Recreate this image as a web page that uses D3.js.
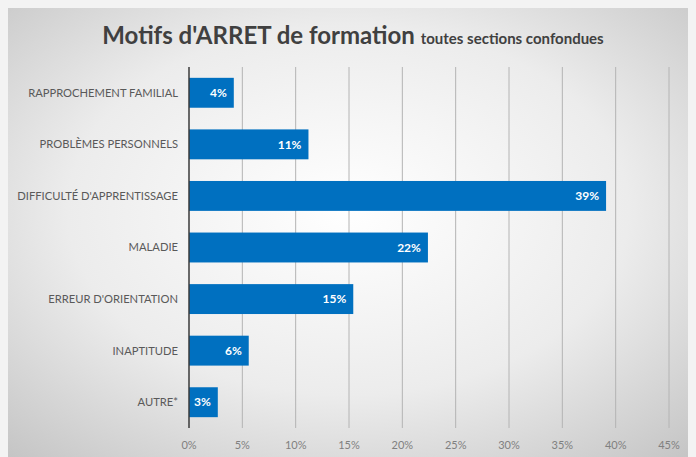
<!DOCTYPE html>
<html lang="fr">
<head>
  <meta charset="UTF-8">
  <title>Motifs d'ARRET de formation</title>
  <style>
    body { margin: 0; background: #f3f3f3; }
    svg { display: block; }
  </style>
</head>
<body>
  <svg id="svg" width="696" height="457"></svg>

  <script src="https://cdn.jsdelivr.net/npm/d3@7"></script>
  <script>
    // categories, top to bottom
    const categories = [
      'RAPPROCHEMENT FAMILIAL',
      'PROBLÈMES PERSONNELS',
      "DIFFICULTÉ D'APPRENTISSAGE",
      'MALADIE',
      "ERREUR D'ORIENTATION",
      'INAPTITUDE',
      'AUTRE*'
    ]
    // share of each reason, in %
    const values = [4.2, 11.2, 39.1, 22.4, 15.4, 5.6, 2.7]
    const ticks = [0, 5, 10, 15, 20, 25, 30, 35, 40, 45]

    const data = categories.map((c, i) => ({ cat: c, val: values[i] }))

    const svg = d3.select('#svg')
    const W = 696, H = 457
    const margin = { top: 67, right: 27, bottom: 29, left: 189 }
    const font = 'Lato, "Open Sans", sans-serif'

    // background panel with a soft radial gradient
    const defs = svg.append('defs')
    const grad = defs.append('radialGradient')
      .attr('id', 'bg')
      .attr('cx', '50%').attr('cy', '45%').attr('r', '75%')
    grad.append('stop').attr('offset', '0%').attr('stop-color', '#ffffff')
    grad.append('stop').attr('offset', '55%').attr('stop-color', '#ececec')
    grad.append('stop').attr('offset', '100%').attr('stop-color', '#c4c4c4')

    svg.append('rect')
      .attr('x', 8).attr('y', 8)
      .attr('width', W - 16).attr('height', H - 8)
      .attr('fill', 'url(#bg)')

    const x = d3.scaleLinear()
      .domain([0, 45])
      .range([margin.left, W - margin.right])

    const y = d3.scaleBand()
      .domain(categories)
      .range([margin.top, H - margin.bottom])
      .paddingInner(0.42)
      .paddingOuter(0.21)

    // vertical gridlines
    svg.append('g')
      .selectAll('line')
      .data(ticks.filter(t => t > 0))
      .join('line')
      .attr('x1', d => x(d)).attr('x2', d => x(d))
      .attr('y1', margin.top).attr('y2', H - margin.bottom)
      .attr('stroke', '#b4b4b4')
      .attr('stroke-width', 1)

    // bars
    svg.append('g')
      .selectAll('rect')
      .data(data)
      .join('rect')
      .attr('x', x(0))
      .attr('y', d => y(d.cat))
      .attr('width', d => x(d.val) - x(0))
      .attr('height', y.bandwidth())
      .attr('fill', '#0070c0')

    // value labels inside the bar end
    svg.append('g')
      .selectAll('text')
      .data(data)
      .join('text')
      .attr('x', d => x(d.val) - 7)
      .attr('y', d => y(d.cat) + y.bandwidth() / 2)
      .attr('dy', '0.35em')
      .attr('text-anchor', 'end')
      .attr('font-family', font)
      .attr('font-size', 12)
      .attr('font-weight', 'bold')
      .attr('fill', '#ffffff')
      .text(d => d3.format('.0f')(d.val) + '%')

    // zero axis line
    svg.append('line')
      .attr('x1', x(0)).attr('x2', x(0))
      .attr('y1', margin.top).attr('y2', H - margin.bottom)
      .attr('stroke', '#3a3a3a')
      .attr('stroke-width', 1.5)

    // category labels
    svg.append('g')
      .selectAll('text')
      .data(categories)
      .join('text')
      .attr('x', margin.left - 11)
      .attr('y', d => y(d) + y.bandwidth() / 2)
      .attr('dy', '0.35em')
      .attr('text-anchor', 'end')
      .attr('font-family', font)
      .attr('font-size', 11.2)
      .attr('fill', '#595959')
      .text(d => d)

    // x axis tick labels
    svg.append('g')
      .selectAll('text')
      .data(ticks)
      .join('text')
      .attr('x', d => x(d))
      .attr('y', H - margin.bottom + 17)
      .attr('dy', '0.35em')
      .attr('text-anchor', 'middle')
      .attr('font-family', font)
      .attr('font-size', 11)
      .attr('fill', '#808080')
      .text(d => d + '%')

    // title
    const title = svg.append('text')
      .attr('x', 353)
      .attr('y', 44)
      .attr('text-anchor', 'middle')
      .attr('font-family', font)
      .attr('font-weight', 'bold')
      .attr('fill', '#404040')
    title.append('tspan')
      .attr('font-size', 24)
      .text("Motifs d'ARRET de formation ")
    title.append('tspan')
      .attr('font-size', 15)
      .text('toutes sections confondues')
  </script>
</body>
</html>
